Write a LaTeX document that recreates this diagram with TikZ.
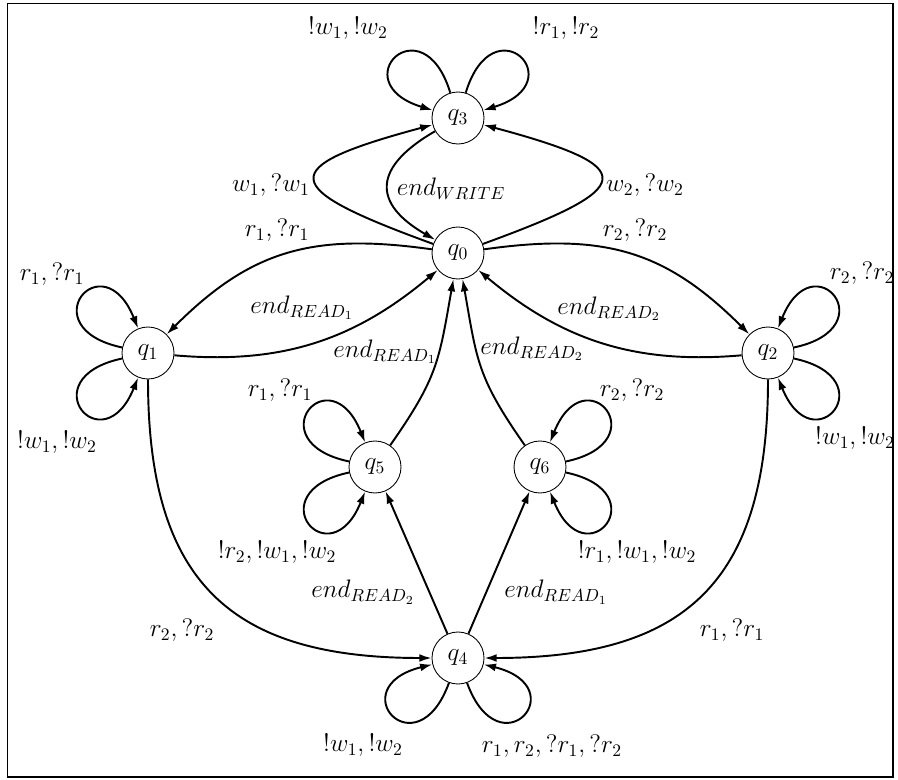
\documentclass[tikz,border=0pt]{standalone}
\usepackage{amsmath, amssymb}
\usepackage{tikz}
\usetikzlibrary{arrows.meta, positioning, calc}

\begin{document}
\begin{tikzpicture}[
    >={Latex[length=7pt,width=4.5pt]},
    state/.style={draw, circle, line width=0.5pt, minimum size=1.04cm, inner sep=0pt, font=\Large},
    trans/.style={->, line width=1.1pt},
    selfloop/.style={trans, distance=1.9cm},
    lbl/.style={font=\Large, inner sep=1pt}
]
    \useasboundingbox (0, 0) rectangle (17.96, -15.6);
    \draw[line width=1.1pt] (0.15, -0.07) rectangle (17.86, -15.54);

    % states
    \node[state] (q3) at (9.16, -2.36) {$q_3$};
    \node[state] (q0) at (9.16, -5.06) {$q_0$};
    \node[state] (q1) at (2.96, -7.06) {$q_1$};
    \node[state] (q2) at (15.36, -7.06) {$q_2$};
    \node[state] (q5) at (7.5, -9.34) {$q_5$};
    \node[state] (q6) at (10.8, -9.34) {$q_6$};
    \node[state] (q4) at (9.16, -13.16) {$q_4$};

    % writer
    \draw[selfloop] (q3) to[out=107, in=163] (q3);
    \node[lbl] (lab_q3w) at (6.96, -0.56) {$!w_1,!w_2$};
    \draw[selfloop] (q3) to[out=73, in=17] (q3);
    \node[lbl] (lab_q3r) at (11.32, -0.56) {$!r_1,!r_2$};

    \draw[trans] (q0) to[out=160, in=195, distance=3.3cm] (q3);
    \node[lbl] (lab_w1) at (5.42, -3.70) {$w_1,?w_1$};
    \draw[trans] (q3) to[out=210, in=150, distance=1.45cm] (q0);
    \node[lbl] (lab_endw) at (9.02, -3.78) {$end_{WRITE}$};
    \draw[trans] (q0) to[out=20, in=-15, distance=3.3cm] (q3);
    \node[lbl] (lab_w2) at (12.90, -3.70) {$w_2,?w_2$};

    % readers
    \draw[trans] (q0) to[out=172, in=45, looseness=1.1] (q1);
    \node[lbl] (lab_r1) at (5.54, -4.60) {$r_1,?r_1$};
    \draw[trans] (q1) to[out=-5, in=220] (q0);
    \node[lbl] (lab_end1) at (6.04, -6.16) {$end_{READ_1}$};
    \draw[trans] (q0) to[out=8, in=135, looseness=1.1] (q2);
    \node[lbl] (lab_r2) at (12.70, -4.60) {$r_2,?r_2$};
    \draw[trans] (q2) to[out=185, in=-40] (q0);
    \node[lbl] (lab_end2) at (12.18, -6.18) {$end_{READ_2}$};

    \draw[selfloop] (q1) to[out=168, in=112] (q1);
    \node[lbl] (lab_q1r) at (1.04, -5.48) {$r_1,?r_1$};
    \draw[selfloop] (q1) to[out=192, in=248] (q1);
    \node[lbl] (lab_q1w) at (1.14, -8.84) {$!w_1,!w_2$};
    \draw[selfloop] (q2) to[out=12, in=68] (q2);
    \node[lbl] (lab_q2r) at (17.24, -5.46) {$r_2,?r_2$};
    \draw[selfloop] (q2) to[out=-12, in=-68] (q2);
    \node[lbl] (lab_q2w) at (17.10, -8.76) {$!w_1,!w_2$};

    \draw[trans] (q5) to[out=55, in=-100, looseness=1.2] (q0);
    \node[lbl] (lab_end51) at (7.70, -7.04) {$end_{READ_1}$};
    \draw[trans] (q6) to[out=125, in=-80, looseness=1.2] (q0);
    \node[lbl] (lab_end62) at (10.64, -6.98) {$end_{READ_2}$};

    \draw[selfloop] (q5) to[out=168, in=112] (q5);
    \node[lbl] (lab_q5r) at (5.60, -7.80) {$r_1,?r_1$};
    \draw[selfloop] (q5) to[out=192, in=248] (q5);
    \node[lbl] (lab_q5w) at (5.54, -11.04) {$!r_2,!w_1,!w_2$};
    \draw[selfloop] (q6) to[out=12, in=68] (q6);
    \node[lbl] (lab_q6r) at (12.64, -7.80) {$r_2,?r_2$};
    \draw[selfloop] (q6) to[out=-12, in=-68] (q6);
    \node[lbl] (lab_q6w) at (12.74, -11.04) {$!r_1,!w_1,!w_2$};

    % both readers
    \draw[trans] (q1) to[out=-90, in=180, looseness=1.3] (q4);
    \node[lbl] (lab_q1q4) at (3.64, -12.60) {$r_2,?r_2$};
    \draw[trans] (q2) to[out=-90, in=0, looseness=1.3] (q4);
    \node[lbl] (lab_q2q4) at (14.64, -12.60) {$r_1,?r_1$};
    \draw[trans] (q4) -- (q5);
    \node[lbl] (lab_end45) at (7.26, -11.84) {$end_{READ_2}$};
    \draw[trans] (q4) -- (q6);
    \node[lbl] (lab_end46) at (11.12, -11.84) {$end_{READ_1}$};

    \draw[selfloop] (q4) to[out=250, in=194] (q4);
    \node[lbl] (lab_q4w) at (7.26, -14.90) {$!w_1,!w_2$};
    \draw[selfloop] (q4) to[out=-70, in=-14] (q4);
    \node[lbl] (lab_q4r) at (11.04, -14.92) {$r_1,r_2,?r_1,?r_2$};
\end{tikzpicture}
\end{document}
